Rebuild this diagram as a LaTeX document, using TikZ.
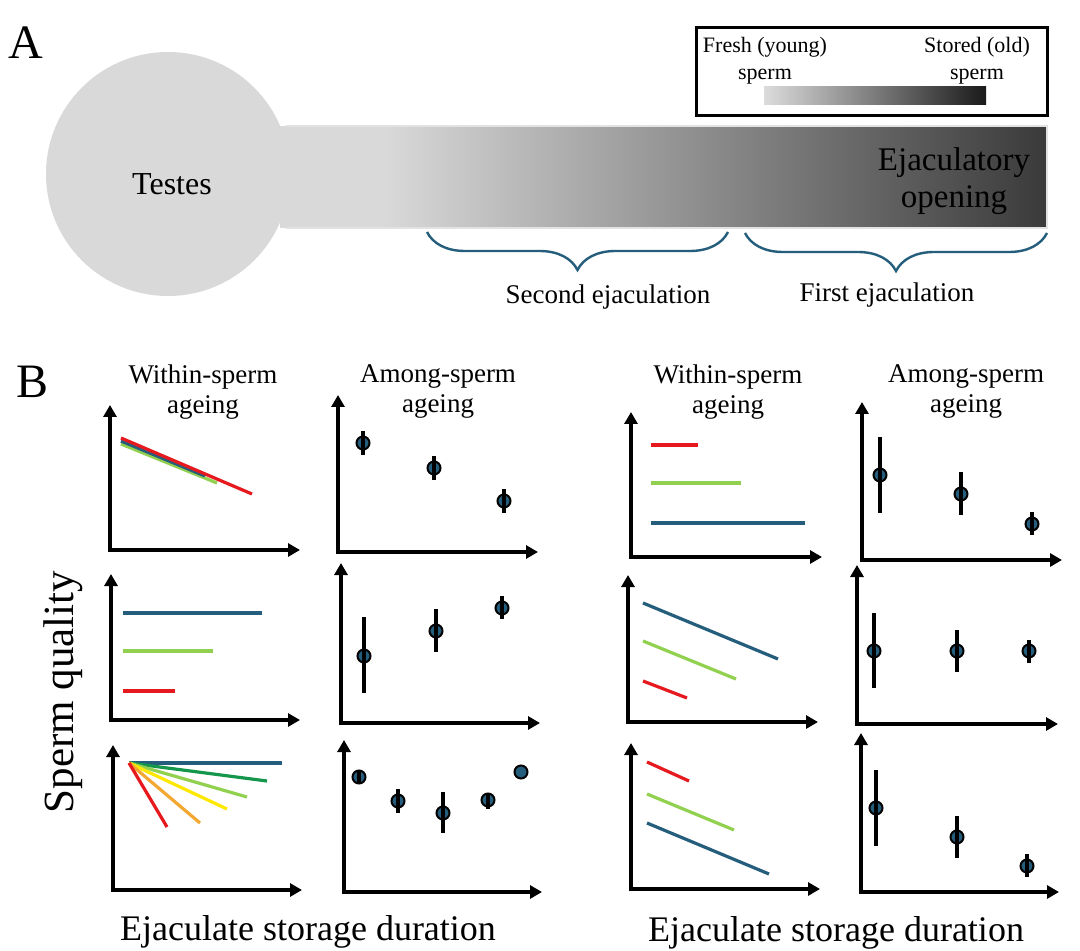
\documentclass[tikz,border=0pt]{standalone}
\usepackage{fontspec}
\setmainfont{Liberation Serif}
\usetikzlibrary{arrows.meta,decorations.pathreplacing}
\begin{document}
\begin{tikzpicture}[x=.5pt,y=-.5pt,
  txt/.style={inner sep=0pt,outer sep=0pt,text=black,align=center},
  axes/.style={draw=black,line width=1.65pt,line join=miter,{Triangle[length=6pt,width=6.5pt]}-{Triangle[length=6pt,width=6.5pt]}},
  trend/.style={line width=1.6pt},
  redline/.style={trend,draw={rgb,255:red,230;green,25;blue,30}},
  greenline/.style={trend,draw={rgb,255:red,146;green,208;blue,80}},
  blueline/.style={trend,draw={rgb,255:red,37;green,94;blue,124}},
  darkgreenline/.style={trend,draw={rgb,255:red,20;green,150;blue,75}},
  yellowline/.style={trend,draw={rgb,255:red,255;green,232;blue,0}},
  orangeline/.style={trend,draw={rgb,255:red,242;green,168;blue,50}},
  errbar/.style={draw=black,line width=1.7pt},
  dotmark/.style={fill={rgb,255:red,37;green,94;blue,124},draw=black,line width=1pt},
  ejbrace/.style={draw={rgb,255:red,37;green,94;blue,124},line width=1.2pt,decorate,decoration={brace,mirror,amplitude=19pt}}
]
\path[use as bounding box] (0,0) rectangle (1080,951);
\path[fill=white,draw=none] (0,0) rectangle (1080,951);
% panel A
\node[txt,font=\fontsize{24}{28}\selectfont] (labA) at (26,43) {A};
\path[fill={rgb,255:red,217;green,217;blue,217}] (168,174) circle[radius=122];
\path[fill={rgb,255:red,217;green,217;blue,217}] (280,126) rectangle (386,228);
\shade[left color={rgb,255:red,217;green,217;blue,217},right color={rgb,255:red,58;green,58;blue,58}] (385,126) rectangle (1047,228);
\draw[draw={rgb,255:red,226;green,226;blue,226},line width=0.8pt] (286,126) -- (1047,126) -- (1047,228) -- (286,228);
\node[txt,font=\fontsize{16}{19}\selectfont] (testes) at (172,184) {Testes};
\node[txt,font=\fontsize{16.5}{18.5}\selectfont] (opening) at (954,181) {Ejaculatory\\opening};
\draw[line width=1.5pt] (696,28) rectangle (1047,116);
\node[txt,font=\fontsize{11}{13.5}\selectfont] (fresh) at (765,61) {Fresh (young)\\sperm};
\node[txt,font=\fontsize{11}{13.5}\selectfont] (stored) at (977,61) {Stored (old)\\sperm};
\shade[left color={rgb,255:red,220;green,220;blue,220},right color={rgb,255:red,26;green,26;blue,26}] (764,87) rectangle (986,105);
\draw[ejbrace] (427,232) -- (728,232);
\draw[ejbrace] (745,233) -- (1047,233);
\node[txt,font=\fontsize{13.5}{16}\selectfont] (second) at (608,297) {Second ejaculation};
\node[txt,font=\fontsize{13.5}{16}\selectfont] (first) at (887,295) {First ejaculation};
% panel B
\node[txt,font=\fontsize{24}{28}\selectfont] (labB) at (33,382) {B};
\node[txt,font=\fontsize{13.5}{15}\selectfont] (withinL) at (203,392) {Within-sperm\\ageing};
\node[txt,font=\fontsize{13.5}{15}\selectfont] (amongL) at (438,392) {Among-sperm\\ageing};
\node[txt,font=\fontsize{13.5}{15}\selectfont] (withinR) at (728,392) {Within-sperm\\ageing};
\node[txt,font=\fontsize{13.5}{15}\selectfont] (amongR) at (966,392) {Among-sperm\\ageing};
\node[txt,rotate=90,anchor=base,font=\fontsize{21.5}{26}\selectfont] (quality) at (73,692) {Sperm quality};
\node[txt,font=\fontsize{18}{22}\selectfont] (durationL) at (308,932) {Ejaculate storage duration};
\node[txt,font=\fontsize{18}{22}\selectfont] (durationR) at (836,933) {Ejaculate storage duration};
% axes
\draw[axes] (110,405) -- (110,550) -- (300,550);
\draw[axes] (111,574) -- (111,720) -- (300,720);
\draw[axes] (113,745) -- (113,890) -- (302,890);
\draw[axes] (338,395) -- (338,552) -- (538,552);
\draw[axes] (341,563) -- (341,723) -- (540,723);
\draw[axes] (344,740) -- (344,892) -- (542,892);
\draw[axes] (631,412) -- (631,557) -- (822,557);
\draw[axes] (628,575) -- (628,722) -- (818,722);
\draw[axes] (631,743) -- (631,889) -- (820,889);
\draw[axes] (862,402) -- (862,560) -- (1062,560);
\draw[axes] (857,565) -- (857,724) -- (1058,724);
\draw[axes] (861,733) -- (861,892) -- (1059,892);
% within-sperm, left
\draw[greenline] (121,444) -- (217,483);
\draw[blueline] (121,441) -- (205,476);
\draw[redline] (121,438) -- (252,494);
\draw[blueline] (123,613) -- (262,613);
\draw[greenline] (123,651) -- (213,651);
\draw[redline] (123,691) -- (175,691);
\draw[blueline] (129,763) -- (282,763);
\draw[darkgreenline] (129,763) -- (267,781);
\draw[greenline] (129,763) -- (247,797);
\draw[yellowline] (129,763) -- (227,809);
\draw[orangeline] (129,763) -- (200,823);
\draw[redline] (129,763) -- (167,827);
% within-sperm, right
\draw[redline] (651,445) -- (698,445);
\draw[greenline] (651,483) -- (741,483);
\draw[blueline] (651,523) -- (805,523);
\draw[blueline] (643,603) -- (778,659);
\draw[greenline] (643,641) -- (736,679);
\draw[redline] (643,681) -- (687,698);
\draw[redline] (647,762) -- (689,781);
\draw[greenline] (647,794) -- (734,830);
\draw[blueline] (647,823) -- (769,874);
% among-sperm, left
\path[dotmark] (363,443) circle[radius=6.5];
\draw[errbar] (363,431) -- (363,455);
\path[dotmark] (434,468) circle[radius=6.5];
\draw[errbar] (434,456) -- (434,480);
\path[dotmark] (504,501) circle[radius=6.5];
\draw[errbar] (504,489) -- (504,513);
\path[dotmark] (364,656) circle[radius=6.5];
\draw[errbar] (364,617) -- (364,693);
\path[dotmark] (436,631) circle[radius=6.5];
\draw[errbar] (436,609) -- (436,652);
\path[dotmark] (502,608) circle[radius=6.5];
\draw[errbar] (502,596) -- (502,619);
\path[dotmark] (359,777) circle[radius=6.5];
\draw[errbar] (359,771) -- (359,783);
\path[dotmark] (398,801) circle[radius=6.5];
\draw[errbar] (398,789) -- (398,813);
\path[dotmark] (443,813) circle[radius=6.5];
\draw[errbar] (443,792) -- (443,833);
\path[dotmark] (488,800) circle[radius=6.5];
\draw[errbar] (488,793) -- (488,809);
\path[dotmark] (521,772) circle[radius=6.5];
% among-sperm, right
\path[dotmark] (880,475) circle[radius=6.5];
\draw[errbar] (880,437) -- (880,513);
\path[dotmark] (961,494) circle[radius=6.5];
\draw[errbar] (961,472) -- (961,515);
\path[dotmark] (1032,524) circle[radius=6.5];
\draw[errbar] (1032,512) -- (1032,535);
\path[dotmark] (874,651) circle[radius=6.5];
\draw[errbar] (874,613) -- (874,688);
\path[dotmark] (957,651) circle[radius=6.5];
\draw[errbar] (957,630) -- (957,672);
\path[dotmark] (1029,651) circle[radius=6.5];
\draw[errbar] (1029,640) -- (1029,663);
\path[dotmark] (876,808) circle[radius=6.5];
\draw[errbar] (876,770) -- (876,846);
\path[dotmark] (957,837) circle[radius=6.5];
\draw[errbar] (957,816) -- (957,858);
\path[dotmark] (1027,866) circle[radius=6.5];
\draw[errbar] (1027,854) -- (1027,877);
\end{tikzpicture}
\end{document}
